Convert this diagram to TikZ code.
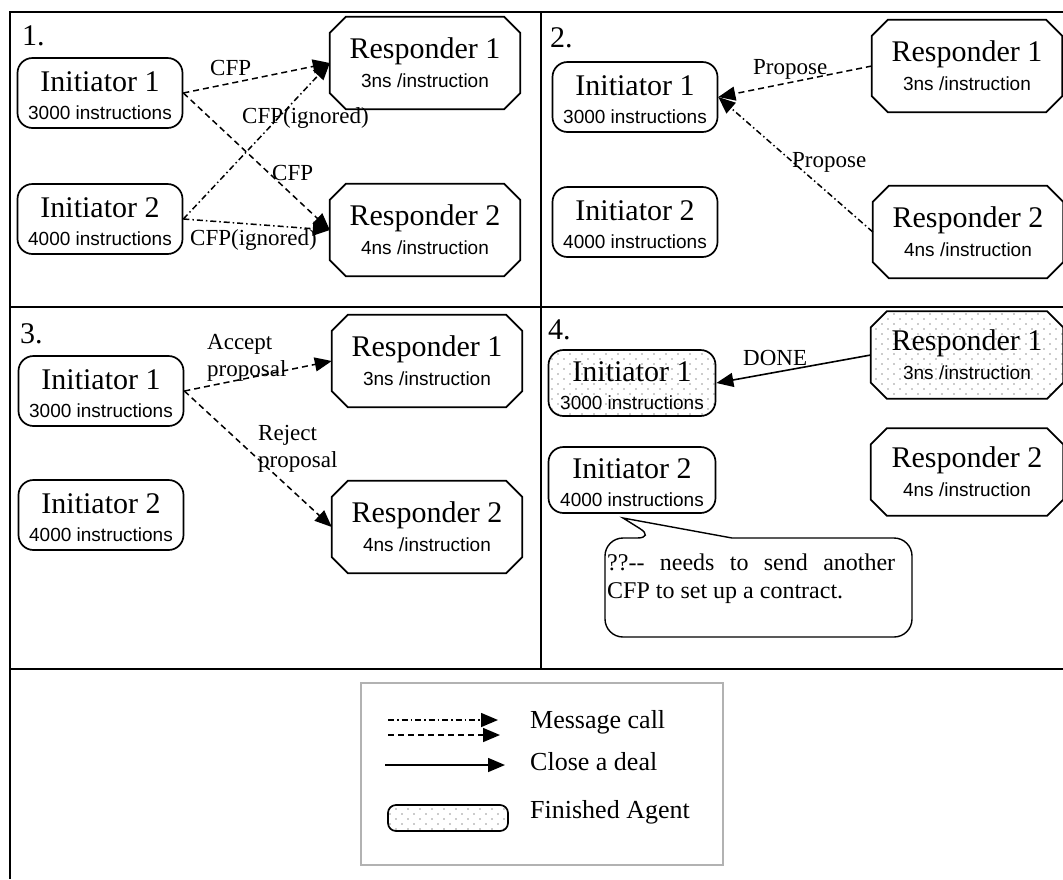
\documentclass[tikz,border=0pt]{standalone}
\usepackage{fontspec}
\setmainfont{Liberation Serif}
\setsansfont{Liberation Sans}
\usetikzlibrary{arrows.meta,patterns.meta,backgrounds}

% sparse grey dots marking a finished agent
\tikzdeclarepattern{
  name=agentdots, type=uncolored,
  bottom left={(-1pt,-1pt)}, top right={(7pt,6pt)},
  tile size={(12pt,10pt)},
  code={
    \pgfpathcircle{\pgfqpoint{0pt}{0pt}}{0.9pt}
    \pgfpathcircle{\pgfqpoint{6pt}{5pt}}{0.9pt}
    \pgfusepath{fill}
  }
}

\newcommand\AgName{\rmfamily\fontsize{30}{28}\selectfont}
\newcommand\AgInfo{\sffamily\fontsize{19}{28}\selectfont}
\newcommand\RespInfo{\sffamily\fontsize{19}{29}\selectfont}
\newcommand\LblFont{\rmfamily\fontsize{23}{27}\selectfont}
\newcommand\NumFont{\rmfamily\fontsize{30}{30}\selectfont}
\newcommand\NoteFont{\rmfamily\fontsize{24}{28}\selectfont}
\newcommand\KeyFont{\rmfamily\fontsize{26}{30}\selectfont}

% octagonal outline around a responder node
\newcommand\octframe[2][]{%
  \draw[line width=1.7pt,#1]
    ([xshift=16pt]#2.north west) -- ([xshift=-16pt]#2.north east)
    -- ([yshift=-16pt]#2.north east) -- ([yshift=16pt]#2.south east)
    -- ([xshift=-16pt]#2.south east) -- ([xshift=16pt]#2.south west)
    -- ([yshift=16pt]#2.south west) -- ([yshift=-16pt]#2.north west) -- cycle;}

\tikzset{
  frame/.style={line width=1.4pt},
  initiator/.style={draw, line width=1.7pt, rounded corners=15pt,
    minimum width=165pt, minimum height=70pt, inner sep=0pt,
    align=center, font=\AgInfo},
  responder/.style={minimum width=190pt, minimum height=92pt, inner sep=0pt,
    align=center, font=\RespInfo},
  msg/.style={line width=1.5pt, -{Triangle[length=17pt,width=14pt]}},
  dashmsg/.style={msg, dash pattern=on 6pt off 4pt},
  dotmsg/.style={msg, dash pattern=on 6pt off 3pt on 1.5pt off 3pt},
  deal/.style={msg, line width=1.6pt},
  lbl/.style={font=\LblFont, inner sep=0pt, anchor=base west},
  num/.style={font=\NumFont, inner sep=0pt, anchor=base west},
  keytext/.style={font=\KeyFont, inner sep=0pt, anchor=base west},
  finished/.style={pattern=agentdots, pattern color=gray!80},
}

\begin{document}
\begin{tikzpicture}[x=1pt, y=-1pt]
\useasboundingbox (0,0) rectangle (1063,879);
\begin{scope}[on background layer]
  \fill[white] (0,0) rectangle (1063,879);
\end{scope}

% panel grid
\draw[frame] (1063,12) -- (10,12) -- (10,879);
\draw[frame] (541,12) -- (541,669);
\draw[frame] (10,307) -- (1063,307);
\draw[frame] (10,669) -- (1063,669);

% ---------- 1. calls for proposals ----------
\node[num] (n1) at (22,45) {1.};
\node[initiator] (i1a) at (100,93) {{\AgName\rule{0pt}{26pt}Initiator 1}\\3000 instructions};
\node[initiator] (i2a) at (100,219) {{\AgName\rule{0pt}{26pt}Initiator 2}\\4000 instructions};
\node[responder] (r1a) at (425,63) {{\AgName Responder 1}\\3ns /instruction};
\node[responder] (r2a) at (425,230) {{\AgName Responder 2}\\4ns /instruction};
\octframe{r1a}
\octframe{r2a}
\draw[dashmsg] (i1a.east) -- (r1a.west);
\draw[dashmsg] (i1a.east) -- (r2a.west);
\draw[dotmsg] (i2a.east) -- (r1a.west);
\draw[dotmsg] (i2a.east) -- (r2a.west);
\node[lbl] (l1a) at (210,75) {CFP};
\node[lbl] (l1b) at (242,123) {CFP(ignored)};
\node[lbl] (l1c) at (272,180) {CFP};
\node[lbl] (l1d) at (190,245) {CFP(ignored)};

% ---------- 2. proposals ----------
\node[num] (n2) at (550,47) {2.};
\node[initiator] (i1b) at (635,97) {{\AgName\rule{0pt}{26pt}Initiator 1}\\3000 instructions};
\node[initiator] (i2b) at (635,222) {{\AgName\rule{0pt}{26pt}Initiator 2}\\4000 instructions};
\node[responder] (r1b) at (967,66) {{\AgName Responder 1}\\3ns /instruction};
\node[responder] (r2b) at (968,232) {{\AgName Responder 2}\\4ns /instruction};
\octframe{r1b}
\octframe{r2b}
\draw[dashmsg] (r1b.west) -- (i1b.east);
\draw[dotmsg] (r2b.west) -- (i1b.east);
\node[lbl] (l2a) at (753,74) {Propose};
\node[lbl] (l2b) at (792,167) {Propose};

% ---------- 3. accept / reject ----------
\node[num] (n3) at (20,343) {3.};
\node[initiator] (i1c) at (101,391) {{\AgName\rule{0pt}{26pt}Initiator 1}\\3000 instructions};
\node[initiator] (i2c) at (101,515) {{\AgName\rule{0pt}{26pt}Initiator 2}\\4000 instructions};
\node[responder] (r1c) at (427,361) {{\AgName Responder 1}\\3ns /instruction};
\node[responder] (r2c) at (427,527) {{\AgName Responder 2}\\4ns /instruction};
\octframe{r1c}
\octframe{r2c}
\draw[dashmsg] (i1c.east) -- (r1c.west);
\draw[dashmsg] (i1c.east) -- (r2c.west);
\node[lbl] (l3a) at (207,349) {Accept};
\node[lbl] (l3b) at (207,376) {proposal};
\node[lbl] (l3c) at (258,440) {Reject};
\node[lbl] (l3d) at (258,467) {proposal};

% ---------- 4. deal closed ----------
\node[num] (n4) at (548,339) {4.};
\node[initiator, finished, minimum width=167pt, minimum height=66pt] (i1d) at (632,383) {{\AgName\rule{0pt}{26pt}Initiator 1}\\3000 instructions};
\node[initiator, minimum width=167pt, minimum height=66pt] (i2d) at (632,480) {{\AgName\rule{0pt}{26pt}Initiator 2}\\4000 instructions};
\node[responder, minimum width=192pt, minimum height=87pt] (r1d) at (967,355) {{\AgName Responder 1}\\3ns /instruction};
\node[responder, minimum width=192pt, minimum height=87pt] (r2d) at (967,472) {{\AgName Responder 2}\\4ns /instruction};
\begin{scope}[on background layer]
  \octframe[finished]{r1d}
\end{scope}
\octframe{r2d}
\draw[deal] (r1d.west) -- (i1d.east);
\node[lbl] (l4a) at (743,365) {DONE};

% speech bubble from Initiator 2
\draw[line width=1.4pt] (623,518) -- (732,538) [rounded corners=18pt]
  -- (912,538) -- (912,637) -- (605,637) -- (605,538) -- (655,538)
  [sharp corners] -- cycle;
\node[anchor=north west, inner sep=0pt, font=\NoteFont, align=left] (note) at (607,553.5)
  {\hbox to 288pt{??-{}-\hfill needs\hfill to\hfill send\hfill another}\\CFP to set up a contract.};

% ---------- key ----------
\draw[gray!60, line width=1.2pt] (361,683) rectangle (723,865);
\coordinate (ka1) at (388,720);  \coordinate (ka2) at (498,720);
\coordinate (kb1) at (388,735);  \coordinate (kb2) at (500,735);
\coordinate (kc1) at (385,765);  \coordinate (kc2) at (505,765);
\draw[dotmsg] (ka1) -- (ka2);
\draw[dashmsg] (kb1) -- (kb2);
\draw[deal] (kc1) -- (kc2);
\node[draw, line width=1.7pt, rounded corners=8pt, finished,
  minimum width=120pt, minimum height=26pt] (kd) at (448,818) {};
\node[keytext] (kta) at (530,728) {Message call};
\node[keytext] (ktb) at (530,770) {Close a deal};
\node[keytext] (ktc) at (530,818) {Finished Agent};
\end{tikzpicture}
\end{document}
